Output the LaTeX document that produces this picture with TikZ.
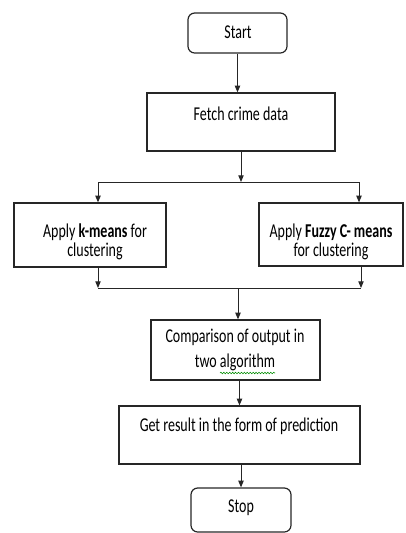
\documentclass[tikz,border=0pt]{standalone}
\usepackage{fontspec}
\usepackage{graphicx}
\setmainfont{Carlito}
\usetikzlibrary{arrows.meta,decorations.pathmorphing}

\newcommand{\tallt}[1]{\scalebox{1}[1.4]{#1}}

\tikzset{every picture/.style={line width=0.75pt}}
\tikzset{
  box/.style={draw=black!85,line width=0.9pt,inner sep=0pt},
  termbox/.style={box,rounded corners=5pt},
  lbl/.style={inner sep=0.75pt,align=center,font=\fontsize{10.5}{18}\selectfont},
  arr/.style={draw=black!85,-{Triangle[length=5pt,width=4pt]}},
  ln/.style={draw=black!85}
}

\begin{document}
\begin{tikzpicture}[x=0.75pt,y=0.75pt,yscale=-1,xscale=1]

\useasboundingbox (0,0) rectangle (406,533);

% boxes
\node [termbox,minimum width=74.25pt,minimum height=30pt] (start) at (237.5,33) {};
\node [box,minimum width=141pt,minimum height=43.5pt] (fetch) at (241,122) {};
\node [box,minimum width=114pt,minimum height=48pt] (kmeans) at (90,235) {};
\node [box,minimum width=108pt,minimum height=47.25pt] (fuzzy) at (331,234.5) {};
\node [box,minimum width=126.75pt,minimum height=45pt] (compare) at (235.5,350) {};
\node [box,minimum width=180.75pt,minimum height=43.5pt] (result) at (239.5,435) {};
\node [termbox,minimum width=75pt,minimum height=33pt] (stop) at (241,510) {};

% texts
\node [lbl] (start-t) at (238,32) {\tallt{Start}};
\node [lbl] (fetch-t) at (241,114) {\tallt{Fetch crime data}};
\node [lbl] (kmeans-t) at (95,242) {\tallt{Apply \textbf{k-means} for}\\[-3.75pt] \tallt{clustering}};
\node [lbl] (fuzzy-t) at (331,242) {\tallt{Apply \textbf{Fuzzy C- means}}\\[-3.75pt] \tallt{for clustering}};
\node [lbl] (compare-t) at (235,349.5) {\tallt{Comparison of output in}\\[0.75pt] \tallt{two algorithm}};
\node [lbl] (result-t) at (239,426) {\tallt{Get result in the form of prediction}};
\node [lbl] (stop-t) at (241,508) {\tallt{Stop}};

\draw [green!55!black,line width=0.4pt,decorate,decoration={snake,segment length=2.2pt,amplitude=0.6pt}] (220,373) -- (275,373);

% joints
\coordinate (sl) at (98,182);
\coordinate (sr) at (359,182);
\coordinate (jl) at (98,288);
\coordinate (jr) at (361,288);
\coordinate (jm) at (238,288);

% connectors
\draw [arr] (start) -- (start |- fetch.north);
\draw [arr] (fetch) -- (fetch |- sl);
\draw [ln] (sl) -- (sr);
\draw [arr] (sl) -- (sl |- kmeans.north);
\draw [arr] (sr) -- (sr |- fuzzy.north);
\draw [arr] (kmeans.south -| jl) -- (jl);
\draw [arr] (fuzzy.south -| jr) -- (jr);
\draw [ln] (jl) -- (jr);
\draw [arr] (jm) -- (jm |- compare.north);
\draw [arr] (compare.south -| result) -- (result.north);
\draw [arr] (result.south -| stop) -- (stop.north);

\end{tikzpicture}
\end{document}
